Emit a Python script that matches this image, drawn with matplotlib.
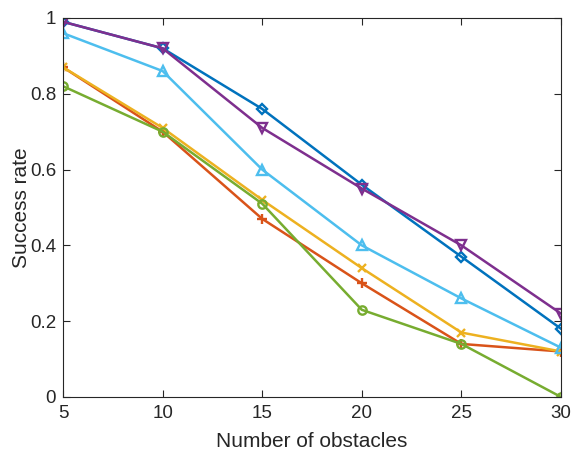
import matplotlib
matplotlib.use("Agg")
import matplotlib.pyplot as plt

obstacles = [5, 10, 15, 20, 25, 30]
s_blue = [0.99, 0.92, 0.76, 0.56, 0.37, 0.18]
s_red = [0.87, 0.70, 0.47, 0.30, 0.14, 0.12]
s_yellow = [0.87, 0.71, 0.52, 0.34, 0.17, 0.12]
s_purple = [0.99, 0.92, 0.71, 0.55, 0.40, 0.22]
s_green = [0.82, 0.70, 0.51, 0.23, 0.14, 0.00]
s_lightblue = [0.96, 0.86, 0.60, 0.40, 0.26, 0.13]

plt.rcParams['font.family'] = ['Liberation Sans', 'DejaVu Sans']

fig = plt.figure(figsize=(5.74, 4.59), dpi=100)
ax = fig.add_axes([0.1098, 0.1351, 0.8676, 0.8257])

series = [
    (s_blue, (0, 0.447, 0.741), 'D', 5),
    (s_red, (0.85, 0.325, 0.098), '+', 7),
    (s_yellow, (0.929, 0.694, 0.125), 'x', 6),
    (s_purple, (0.494, 0.184, 0.556), 'v', 7),
    (s_green, (0.466, 0.674, 0.188), 'o', 6),
    (s_lightblue, (0.301, 0.745, 0.933), '^', 7),
]
for vals, col, mk, ms in series:
    ax.plot(obstacles, vals, color=col, marker=mk, markersize=ms, linewidth=1.8,
            markerfacecolor='none', markeredgecolor=col, markeredgewidth=1.7)

ax.set_xlim(5, 30)
ax.set_ylim(0, 1)
ax.set_xticks([5, 10, 15, 20, 25, 30])
ax.set_yticks([0, 0.2, 0.4, 0.6, 0.8, 1])
ax.set_yticklabels(['0', '0.2', '0.4', '0.6', '0.8', '1'])
ax.tick_params(direction='in', top=True, right=True, labelsize=13.5, colors='#262626',
               length=5, width=0.8, pad=5)
ax.tick_params(axis='x', pad=6)
for sp in ax.spines.values():
    sp.set_color('#262626')
    sp.set_linewidth(0.8)
ax.set_xlabel('Number of obstacles', fontsize=15, color='#262626', labelpad=7)
ax.set_ylabel('Success rate', fontsize=15, color='#262626', labelpad=-1)

fig.savefig('out.png', dpi=100)
